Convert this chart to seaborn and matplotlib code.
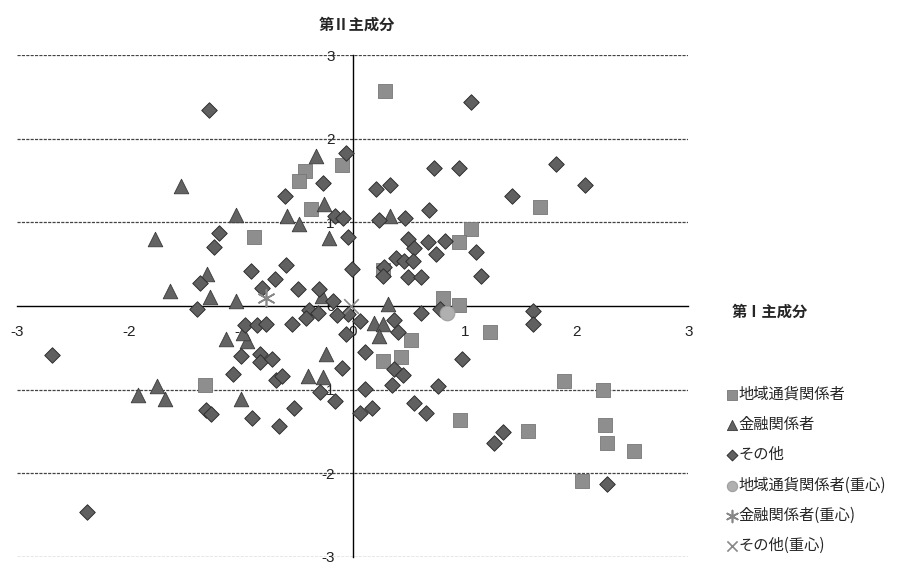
import seaborn as sns
import matplotlib.pyplot as plt
import pandas as pd

# 地域通貨関係者
sq_x = [0.29, -0.43, -0.48, -0.10, -0.37, -0.88, 1.67, 1.06, 0.95, 0.27, 0.81, 0.95, 1.23,
        0.52, 0.43, 0.27, 0.96, 1.57, 1.89, 2.24, 2.25, 2.27, 2.51, 2.05, -1.32]
sq_y = [2.57, 1.62, 1.49, 1.69, 1.16, 0.82, 1.18, 0.92, 0.76, 0.43, 0.10, 0.01, -0.31,
        -0.41, -0.61, -0.66, -1.36, -1.50, -0.90, -1.00, -1.42, -1.64, -1.74, -2.09, -0.94]

# 金融関係者
tr_x = [-0.33, -1.54, -0.26, -1.04, -0.59, -0.48, -1.77, -0.21, -1.30, -1.63, -1.28, -1.04,
        0.33, 0.31, 0.19, 0.27, 0.23, -1.13, -0.95, -0.98, -0.24, -0.40, -0.27, -1.75,
        -1.92, -1.68, -1.00, -0.28]
tr_y = [1.80, 1.43, 1.22, 1.09, 1.08, 0.98, 0.80, 0.81, 0.38, 0.18, 0.11, 0.06,
        1.08, 0.02, -0.20, -0.22, -0.36, -0.40, -0.42, -0.32, -0.57, -0.84, -0.85, -0.96,
        -1.07, -1.11, -1.11, 0.12]

# その他
di_x = [-1.29, -0.06, -0.27, -0.61, -0.16, -0.09, -1.20, -1.24, -0.04, -0.91, -0.60, -0.70,
        -1.37, -0.81, -0.49, -0.30, -0.01, -0.18,
        1.06, 0.73, 0.95, 1.82, 2.08, 0.21, 0.33, 1.42, 0.68, 0.23, 0.47, 0.49, 0.55, 0.67,
        0.82, 0.74, 1.10, 0.39, 0.46, 0.54, 0.28, 0.27, 0.49, 0.61, 1.15,
        0.61, 0.78, 1.61, 1.61, 0.06, -0.06, 0.37, 0.40, 0.11, -0.10, 0.98, 0.37, 0.45,
        0.35, 0.76, 0.11, 0.06, 0.17, 0.55, 0.65, 1.34, 1.26, 2.27, -0.04,
        -2.69, -2.38, -1.39, -0.96, -0.86, -0.78, -0.54, -0.39, -0.31, -0.42, -0.14, -1.00,
        -0.83, -0.83, -0.72, -1.07, -0.69, -0.63, -0.29, -0.16, -0.53, -1.31, -1.27, -0.90,
        -0.66]
di_y = [2.35, 1.83, 1.47, 1.32, 1.08, 1.05, 0.87, 0.70, 0.82, 0.42, 0.49, 0.32,
        0.28, 0.22, 0.20, 0.20, 0.44, 0.06,
        2.44, 1.65, 1.65, 1.70, 1.45, 1.40, 1.45, 1.32, 1.15, 1.03, 1.05, 0.80, 0.69, 0.77,
        0.78, 0.62, 0.64, 0.58, 0.54, 0.54, 0.47, 0.36, 0.35, 0.35, 0.36,
        -0.08, -0.04, -0.06, -0.21, -0.18, -0.34, -0.17, -0.31, -0.55, -0.74, -0.63, -0.76, -0.83,
        -0.94, -0.96, -0.99, -1.28, -1.22, -1.16, -1.28, -1.51, -1.64, -2.13, -0.10,
        -0.59, -2.46, -0.04, -0.23, -0.23, -0.21, -0.21, -0.05, -0.08, -0.14, -0.11, -0.60,
        -0.58, -0.67, -0.64, -0.82, -0.88, -0.84, -1.03, -1.14, -1.22, -1.24, -1.29, -1.34,
        -1.44]

# 重心
cen_labels = ["地域通貨関係者(重心)", "金融関係者(重心)", "その他(重心)"]
cen_x = [0.84, -0.78, -0.02]
cen_y = [-0.09, 0.10, 0.0]

ticks = [-3, -2, -1, 0, 1, 2, 3]

sns.set_style("white")
plt.rcParams["font.family"] = ["Noto Sans CJK JP", "DejaVu Sans"]
plt.rcParams["axes.unicode_minus"] = False

fig = plt.figure(figsize=(9.07, 5.64), dpi=100)
ax = fig.add_axes([0.019, 0.013, 0.74, 0.889])

for yy in [-3, -2, -1, 1, 2, 3]:
    ax.axhline(yy, color="#444444", lw=0.9, ls=(0, (2.5, 1)), zorder=0)

sns.scatterplot(x=sq_x, y=sq_y, marker="s", s=95, color="#8e8e8e",
                edgecolor="#777777", linewidth=0.6, label="地域通貨関係者", ax=ax, zorder=3)
sns.scatterplot(x=tr_x, y=tr_y, marker="^", s=110, color="#636363",
                edgecolor="#3a3a3a", linewidth=0.6, label="金融関係者", ax=ax, zorder=3)
sns.scatterplot(x=di_x, y=di_y, marker="D", s=62, color="#606060",
                edgecolor="#2e2e2e", linewidth=0.7, label="その他", ax=ax, zorder=3)
sns.scatterplot(x=cen_x[:1], y=cen_y[:1], marker="o", s=110, color="#b0b0b0",
                edgecolor="#a0a0a0", label=cen_labels[0], ax=ax, zorder=4)
sns.scatterplot(x=cen_x[1:2], y=cen_y[1:2], marker=(6, 2, 0), s=150, color="#888888",
                linewidth=1.2, label=cen_labels[1], ax=ax, zorder=4)
sns.scatterplot(x=cen_x[2:], y=cen_y[2:], marker="x", s=110, color="#888888",
                linewidth=1.2, label=cen_labels[2], ax=ax, zorder=4)

ax.set_xlim(-3, 3)
ax.set_ylim(-3, 3)
ax.set_xticks(ticks)
ax.set_yticks(ticks)
ax.spines["left"].set_position("zero")
ax.spines["bottom"].set_position("zero")
ax.spines["top"].set_visible(False)
ax.spines["right"].set_visible(False)
for s in ["left", "bottom"]:
    ax.spines[s].set_color("black")
    ax.spines[s].set_linewidth(1.0)
ax.tick_params(axis="x", direction="in", length=4, pad=14, labelsize=11, colors="#222222")
ax.tick_params(axis="y", direction="out", length=3, pad=10, labelsize=11, colors="#222222")
for lab in ax.get_xticklabels() + ax.get_yticklabels():
    lab.set_family(["Liberation Sans", "DejaVu Sans"])

handles, labels = ax.get_legend_handles_labels()
ax.legend_.remove()
fig.legend(handles, labels, loc="upper left", bbox_to_anchor=(0.795, 0.327),
           frameon=False, fontsize=11, handlelength=0.6, handletextpad=0.15,
           labelspacing=0.87, markerscale=0.7, borderaxespad=0)

fig.text(0.393, 0.957, "第Ⅱ主成分", ha="center", va="center", fontsize=11, fontweight="bold")
fig.text(0.849, 0.447, "第Ⅰ主成分", ha="center", va="center", fontsize=11, fontweight="bold")

plt.savefig("out.png", dpi=100)
